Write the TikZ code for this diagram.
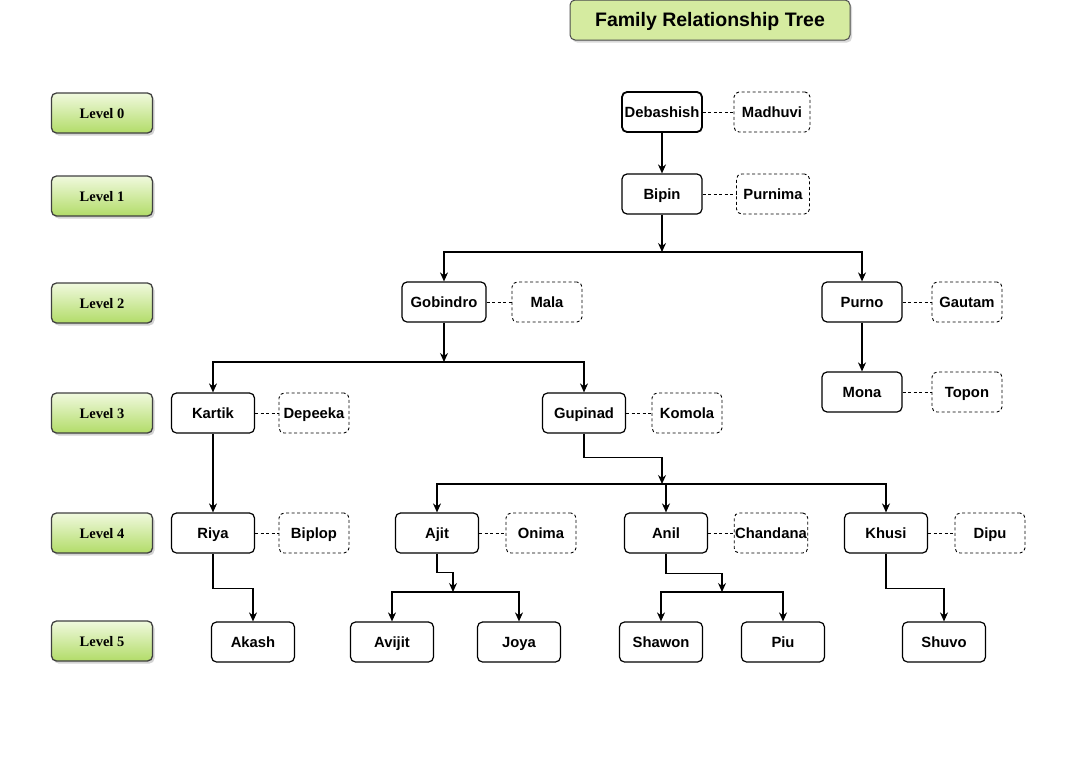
\documentclass[tikz,border=0pt]{standalone}
\usepackage{fontspec}
\setmainfont{Liberation Sans}
\newfontfamily\levelfont{Liberation Serif}
\usetikzlibrary{arrows.meta}
\usetikzlibrary{shadows}

\definecolor{lvltop}{HTML}{F0F9DE}
\definecolor{lvlbot}{HTML}{B2DC68}
\definecolor{titlegreen}{HTML}{D5EBA0}

\begin{document}
\begin{tikzpicture}[x=1pt, y=1pt, text height=2.4ex, text depth=0.2ex, >={Stealth[length=9pt,width=8pt]},
				person/.style={rectangle,rounded corners=5pt,draw,line width=1.2pt,minimum width=83pt,minimum height=40pt,inner sep=1pt,font=\fontsize{14.8}{16}\selectfont\bfseries},
				spouse/.style={person,dash pattern=on 3pt off 2.5pt,line width=0.9pt,minimum width=70pt},
				level/.style={rectangle,rounded corners=5pt,draw=black!75,line width=1.3pt,minimum width=101pt,minimum height=40pt,inner sep=1pt,top color=lvltop,bottom color=lvlbot,drop shadow={shadow xshift=2pt,shadow yshift=-2.5pt,opacity=.35},font=\levelfont\fontsize{14.5}{16}\selectfont\bfseries},
				titlebox/.style={rectangle,rounded corners=5pt,draw=black!70,line width=1pt,fill=titlegreen,minimum width=280pt,minimum height=40pt,inner sep=1pt,text height=2.6ex,drop shadow={shadow xshift=2pt,shadow yshift=-2.5pt,opacity=.3},font=\fontsize{19.5}{22}\selectfont\bfseries},
				link/.style={line width=1.2pt},
				wed/.style={dash pattern=on 3pt off 2.5pt,line width=0.9pt}]

				\useasboundingbox (0,0) rectangle (1086,-763);

				\node (title) [titlebox] at (710,-20) {Family Relationship Tree};

				% levels
				\node (lvl0) [level] at (102,-113) {Level 0};
				\node (lvl1) [level,below of=lvl0,node distance=83pt] {Level 1};
				\node (lvl2) [level,below of=lvl1,node distance=107pt] {Level 2};
				\node (lvl3) [level,below of=lvl2,node distance=110pt] {Level 3};
				\node (lvl4) [level,below of=lvl3,node distance=120pt] {Level 4};
				\node (lvl5) [level,below of=lvl4,node distance=108pt] {Level 5};

				% people
				\node (deb) [person,line width=1.8pt,minimum width=80pt] at (662,-112) {Debashish};
				\node (madhuvi) [spouse,minimum width=76pt,right of=deb,node distance=110pt] {Madhuvi};
				\node (bipin) [person,minimum width=80pt,below of=deb,node distance=82pt] {Bipin};
				\node (purnima) [spouse,minimum width=73pt,right of=bipin,node distance=111pt] {Purnima};
				\node (gobindro) [person,minimum width=84pt] at (444,-302) {Gobindro};
				\node (mala) [spouse,right of=gobindro,node distance=103pt] {Mala};
				\node (purno) [person,minimum width=80pt] at (862,-302) {Purno};
				\node (gautam) [spouse,right of=purno,node distance=105pt] {Gautam};
				\node (mona) [person,minimum width=80pt,below of=purno,node distance=90pt] {Mona};
				\node (topon) [spouse,right of=mona,node distance=105pt] {Topon};
				\node (kartik) [person] at (213,-413) {Kartik};
				\node (depeeka) [spouse,right of=kartik,node distance=101pt] {Depeeka};
				\node (gupinad) [person] at (584,-413) {Gupinad};
				\node (komola) [spouse,right of=gupinad,node distance=103pt] {Komola};
				\node (riya) [person,below of=kartik,node distance=120pt] {Riya};
				\node (biplop) [spouse,right of=riya,node distance=101pt] {Biplop};
				\node (ajit) [person] at (437,-533) {Ajit};
				\node (onima) [spouse,right of=ajit,node distance=104pt] {Onima};
				\node (anil) [person] at (666,-533) {Anil};
				\node (chandana) [spouse,right of=anil,node distance=105pt] {Chandana};
				\node (khusi) [person] at (886,-533) {Khusi};
				\node (dipu) [spouse,right of=khusi,node distance=104pt] {Dipu};
				\node (akash) [person] at (253,-642) {Akash};
				\node (avijit) [person] at (392,-642) {Avijit};
				\node (joya) [person,right of=avijit,node distance=127pt] {Joya};
				\node (shawon) [person] at (661,-642) {Shawon};
				\node (piu) [person,right of=shawon,node distance=122pt] {Piu};
				\node (shuvo) [person] at (944,-642) {Shuvo};

				% bus points
				\coordinate (bus1) at (662,-252);
				\coordinate (bus2) at (444,-362);
				\coordinate (bus3) at (662,-484);
				\coordinate (bus4) at (453,-592);
				\coordinate (bus5) at (722,-592);

				% marriages
				\draw [wed] (deb) -- (madhuvi);
				\draw [wed] (bipin) -- (purnima);
				\draw [wed] (gobindro) -- (mala);
				\draw [wed] (purno) -- (gautam);
				\draw [wed] (mona) -- (topon);
				\draw [wed] (kartik) -- (depeeka);
				\draw [wed] (gupinad) -- (komola);
				\draw [wed] (riya) -- (biplop);
				\draw [wed] (ajit) -- (onima);
				\draw [wed] (anil) -- (chandana);
				\draw [wed] (khusi) -- (dipu);

				% children
				\draw [->,line width=1.8pt] (deb) -- (bipin);
				\draw [->,link] (bipin) -- (bus1);
				\draw [<->,link] (gobindro) |- (bus1) -| (purno);
				\draw [->,link] (gobindro) -- (bus2);
				\draw [<->,link] (kartik) |- (bus2) -| (gupinad);
				\draw [->,link] (purno) -- (mona);
				\draw [->,link] (kartik) -- (riya);
				\draw [->,link] (gupinad.south) -- ++(0,-24) -| (bus3);
				\draw [<->,link] (ajit) |- (bus3) -| (khusi);
				\draw [->,line width=1.8pt] (anil |- bus3) -- (anil);
				\draw [->,link] (riya.south) -- ++(0,-35) -| (akash);
				\draw [->,link] (ajit.south) -- ++(0,-19) -| (bus4);
				\draw [<->,link] (avijit) |- (bus4) -| (joya);
				\draw [->,link] (anil.south) -- ++(0,-20) -| (bus5);
				\draw [<->,link] (shawon) |- (bus5) -| (piu);
				\draw [->,link] (khusi.south) -- ++(0,-35) -| (shuvo);
\end{tikzpicture}
\end{document}
